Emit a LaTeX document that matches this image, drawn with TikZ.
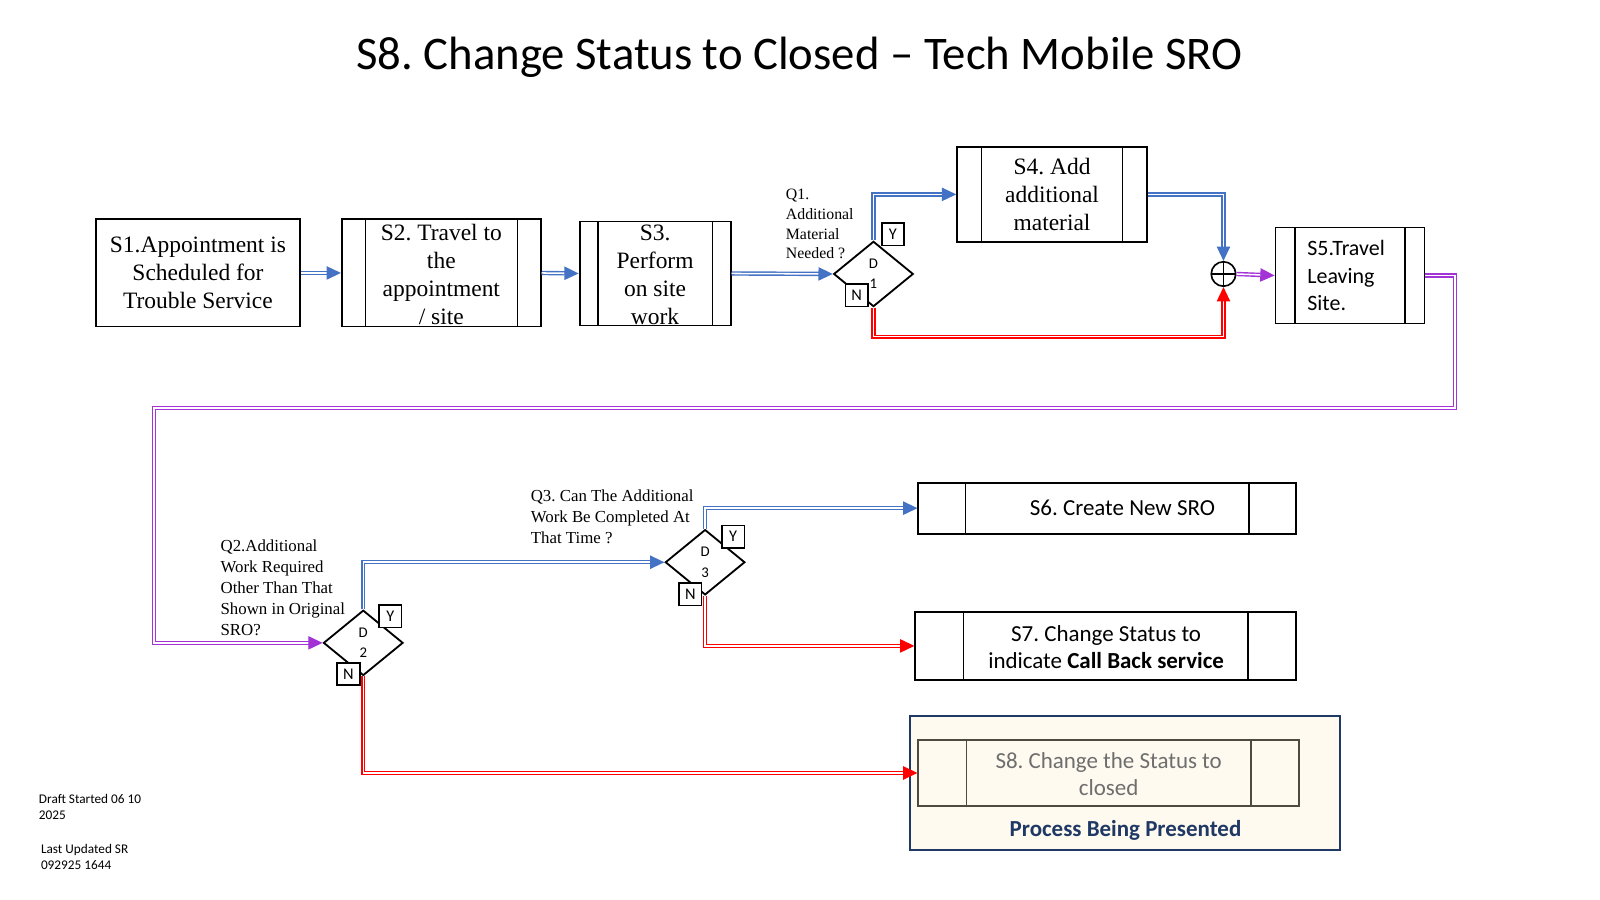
\documentclass[tikz,border=0pt]{standalone}
\usepackage{fontspec}
\setmainfont{Carlito}
\newfontfamily\tnr{Liberation Serif}
\usetikzlibrary{shapes.geometric,arrows.meta,calc}
\definecolor{cblue}{HTML}{4472C4}
\definecolor{cred}{HTML}{FF0000}
\definecolor{cpurple}{HTML}{A333D6}
\definecolor{cnavy}{HTML}{1F3864}
\definecolor{ccream}{HTML}{FEFAF0}
\definecolor{cgrayb}{HTML}{4D4A3F}
\definecolor{cgrayt}{HTML}{6E6E6E}
\frenchspacing
\begin{document}
\begin{tikzpicture}[x=1pt,y=-1pt,
  box/.style={draw, line width=1.8pt, inner sep=0pt},
  subproc/.style={box, path picture={\draw[line width=1.3pt]
      ([xshift=#1]path picture bounding box.north west) -- ([xshift=#1]path picture bounding box.south west)
      ([xshift=-#1]path picture bounding box.north east) -- ([xshift=-#1]path picture bounding box.south east);}},
  subproc/.default=22pt,
  sertxt/.style={font=\tnr\fontsize{23}{27.5}\selectfont, align=center, inner sep=0pt},
  santxt/.style={font=\fontsize{22.5}{27}\selectfont, align=center, inner sep=0pt},
  qtxt/.style={font=\tnr\fontsize{16.5}{20.5}\selectfont, align=left, inner sep=0pt, anchor=west},
  dia/.style={draw, line width=1.8pt, diamond, minimum width=78pt, minimum height=64pt, inner sep=0pt,
      align=center, font=\fontsize{14.5}{20}\selectfont},
  yn/.style={draw, fill=white, line width=1.7pt, minimum width=22pt, minimum height=22pt, inner sep=0pt,
      font=\fontsize{16}{16}\selectfont},
  conn/.style={double=white, double distance=1.5pt, line width=1.4pt},
  bconn/.style={conn, draw=cblue, -{Triangle[length=14pt,width=13pt,fill=cblue]}},
  rconn/.style={conn, draw=cred, -{Triangle[length=14pt,width=13pt,fill=cred]}},
  pconn/.style={conn, draw=cpurple, -{Triangle[length=14pt,width=13pt,fill=cpurple]}},
  foot/.style={font=\fontsize{13}{16}\selectfont, align=left, inner sep=0pt, anchor=north west}
]
\useasboundingbox (0,0) rectangle (1568,882);

% title
\node[font=\fontsize{45.8}{54}\selectfont, inner sep=0pt] (title) at (783.5,56) {S8. Change Status to Closed – Tech Mobile SRO};

% top row
\node[box, minimum width=200pt, minimum height=105pt, sertxt] (s1) at (194,267.5)
  {S1.Appointment is\\Scheduled for\\Trouble Service};
\node[subproc=23pt, minimum width=195pt, minimum height=105pt] (s2) at (432.5,267.5) {};
\node[sertxt] (s2t) at (432.5,269) {S2. Travel to\\the\\appointment\\/ site};
\node[subproc=18pt, minimum width=148pt, minimum height=102pt] (s3) at (642,268) {};
\node[sertxt] (s3t) at (642,269) {S3.\\Perform\\on site\\work};

\node[dia] (d1) at (856,268.5) {D\\1};
\node[yn] (d1y) at (875,229.5) {Y};
\node[yn] (d1n) at (839.5,289.5) {N};
\node[qtxt, font=\tnr\fontsize{15.5}{19.5}\selectfont] (q1) at (770,219.5) {Q1.\\Additional\\Material\\Needed ?};

\node[subproc=24pt, minimum width=186pt, minimum height=93pt, sertxt] (s4) at (1031,190.5)
  {S4. Add\\additional\\material};

\node[draw, circle, line width=1.6pt, minimum size=24pt, inner sep=0pt,
  path picture={\draw[line width=1.4pt] (path picture bounding box.north) -- (path picture bounding box.south)
     (path picture bounding box.west) -- (path picture bounding box.east);}] (c) at (1199,268.5) {};

\node[subproc=19pt, minimum width=146pt, minimum height=94pt] (s5) at (1323,270) {};
\node[santxt, font=\fontsize{21.5}{27}\selectfont, align=left, anchor=west] (s5t) at (1281,270) {S5.Travel\\Leaving\\Site.};

% bottom part
\node[dia] (d2) at (356,630) {D\\2};
\node[yn] (d2y) at (382.5,604) {Y};
\node[yn] (d2n) at (341.5,660.5) {N};
\node[qtxt] (q2) at (216,576) {Q2.Additional\\Work Required\\Other Than That\\Shown in Original\\SRO?};

\node[dia] (d3) at (691,551) {D\\3};
\node[yn] (d3y) at (718.5,526) {Y};
\node[yn] (d3n) at (676.5,582.5) {N};
\node[qtxt] (q3) at (520,506.5) {Q3. Can The Additional\\Work Be Completed At\\That Time ?};

\node[subproc=46pt, minimum width=370pt, minimum height=50pt] (s6) at (1085,498) {};
\node[santxt] (s6t) at (1100,498) {S6. Create New SRO};

\node[subproc=47pt, minimum width=373pt, minimum height=66pt] (s7) at (1083.5,633) {};
\node[santxt] (s7t) at (1084,634) {S7. Change Status to\\indicate \textbf{Call Back service}};

\node[draw=cnavy, fill=ccream, line width=1.8pt, minimum width=421pt, minimum height=131pt] (hl) at (1102.5,767.5) {};
\node[subproc=47pt, draw=cgrayb, minimum width=373pt, minimum height=65pt] (s8) at (1086.5,757.5) {};
\node[santxt, text=cgrayt] (s8t) at (1086.5,758.5) {S8. Change the Status to\\closed};
\node[santxt, font=\bfseries\fontsize{22.5}{27}\selectfont, text=cnavy] (pbp) at (1103,814) {Process Being Presented};

% footer
\node[foot] (f1) at (38,778) {Draft Started 06 10\\2025};
\node[foot] (f2) at (40,827) {Last Updated SR\\092925 1644};

% connectors
\draw[bconn] (s1.east) -- (s2.west);
\draw[bconn] (s2.east) -- (s3.west);
\draw[bconn] (s3.east) -- (d1.west);
\draw[bconn] (d1.north) |- (s4.west);
\draw[bconn] (s4.east) -| (c.north);
\draw[rconn] (d1.south) -- (856,330) -| (c.south);
\draw[pconn] (c.east) -- (s5.west);
\draw[pconn] (s5.east) -- (1426,270) -- (1426,400) -- (151,400) |- (d2.west);
\draw[bconn] (d2.north) |- (d3.west);
\draw[bconn] (d3.north) |- (s6.west);
\draw[rconn] (d3.south) |- (s7.west);
\draw[rconn] (d2.south) |- (s8.west);
\end{tikzpicture}
\end{document}
